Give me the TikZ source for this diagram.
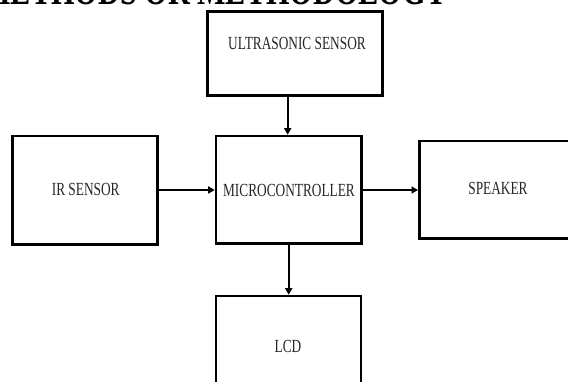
\documentclass[tikz,border=0pt]{standalone}
\usepackage{fontspec}
\usetikzlibrary{arrows.meta}
\newfontfamily\boxfont{Liberation Serif}[FakeStretch=0.72]
\newfontfamily\titlefont{Liberation Serif}[FakeStretch=0.72]
\tikzset{
  blk/.style={draw=black, line width=2.6pt, fill=white, inner sep=0pt},
  lbl/.style={text=black!85, font=\boxfont\fontsize{18.5}{20}\selectfont, inner sep=0pt},
  conn/.style={draw=black, line width=2.4pt, -{Triangle[length=6.5pt,width=7pt]}},
}
\begin{document}
\begin{tikzpicture}[x=1pt,y=-1pt]
\path[use as bounding box] (0,0) rectangle (568,382);
\clip (0,0) rectangle (568,382);
\fill[white] (0,0) rectangle (568,382);
% title (cut off at the top)
\node[anchor=base east, inner sep=0pt, font=\titlefont\bfseries\fontsize{42}{44}\selectfont] (title) at (448,4.5) {METHODS OR METHODOLOGY};
% boxes
\node[blk, minimum width=175pt, minimum height=84pt] (ultra) at (295.2,53.7) {};
\node[blk, minimum width=144.6pt, minimum height=108.3pt] (ir) at (85,190.15) {};
\node[blk, minimum width=145.5pt, minimum height=107.5pt] (micro) at (288.75,189.75) {};
\node[blk, minimum width=200pt, minimum height=97.3pt] (spk) at (519.3,189.65) {};
\node[blk, minimum width=145pt, minimum height=120pt] (lcd) at (288.5,356) {};
% labels
\node[lbl] (tultra) at (297,43) {ULTRASONIC SENSOR};
\node[lbl] (tir) at (85.7,189.3) {IR SENSOR};
\node[lbl] (tmicro) at (289,190) {MICROCONTROLLER};
\node[lbl] (tspk) at (498,188) {SPEAKER};
\node[lbl] (tlcd) at (288,346) {LCD};
% connectors
\draw[conn] (ultra.south -| 287.7,0) -- (micro.north -| 287.7,0);
\draw[conn] (ir.east |- 0,190) -- (micro.west |- 0,190);
\draw[conn] (micro.east |- 0,190) -- (spk.west |- 0,190);
\draw[conn] (micro.south -| 288.7,0) -- (lcd.north -| 288.7,0);
\end{tikzpicture}
\end{document}
